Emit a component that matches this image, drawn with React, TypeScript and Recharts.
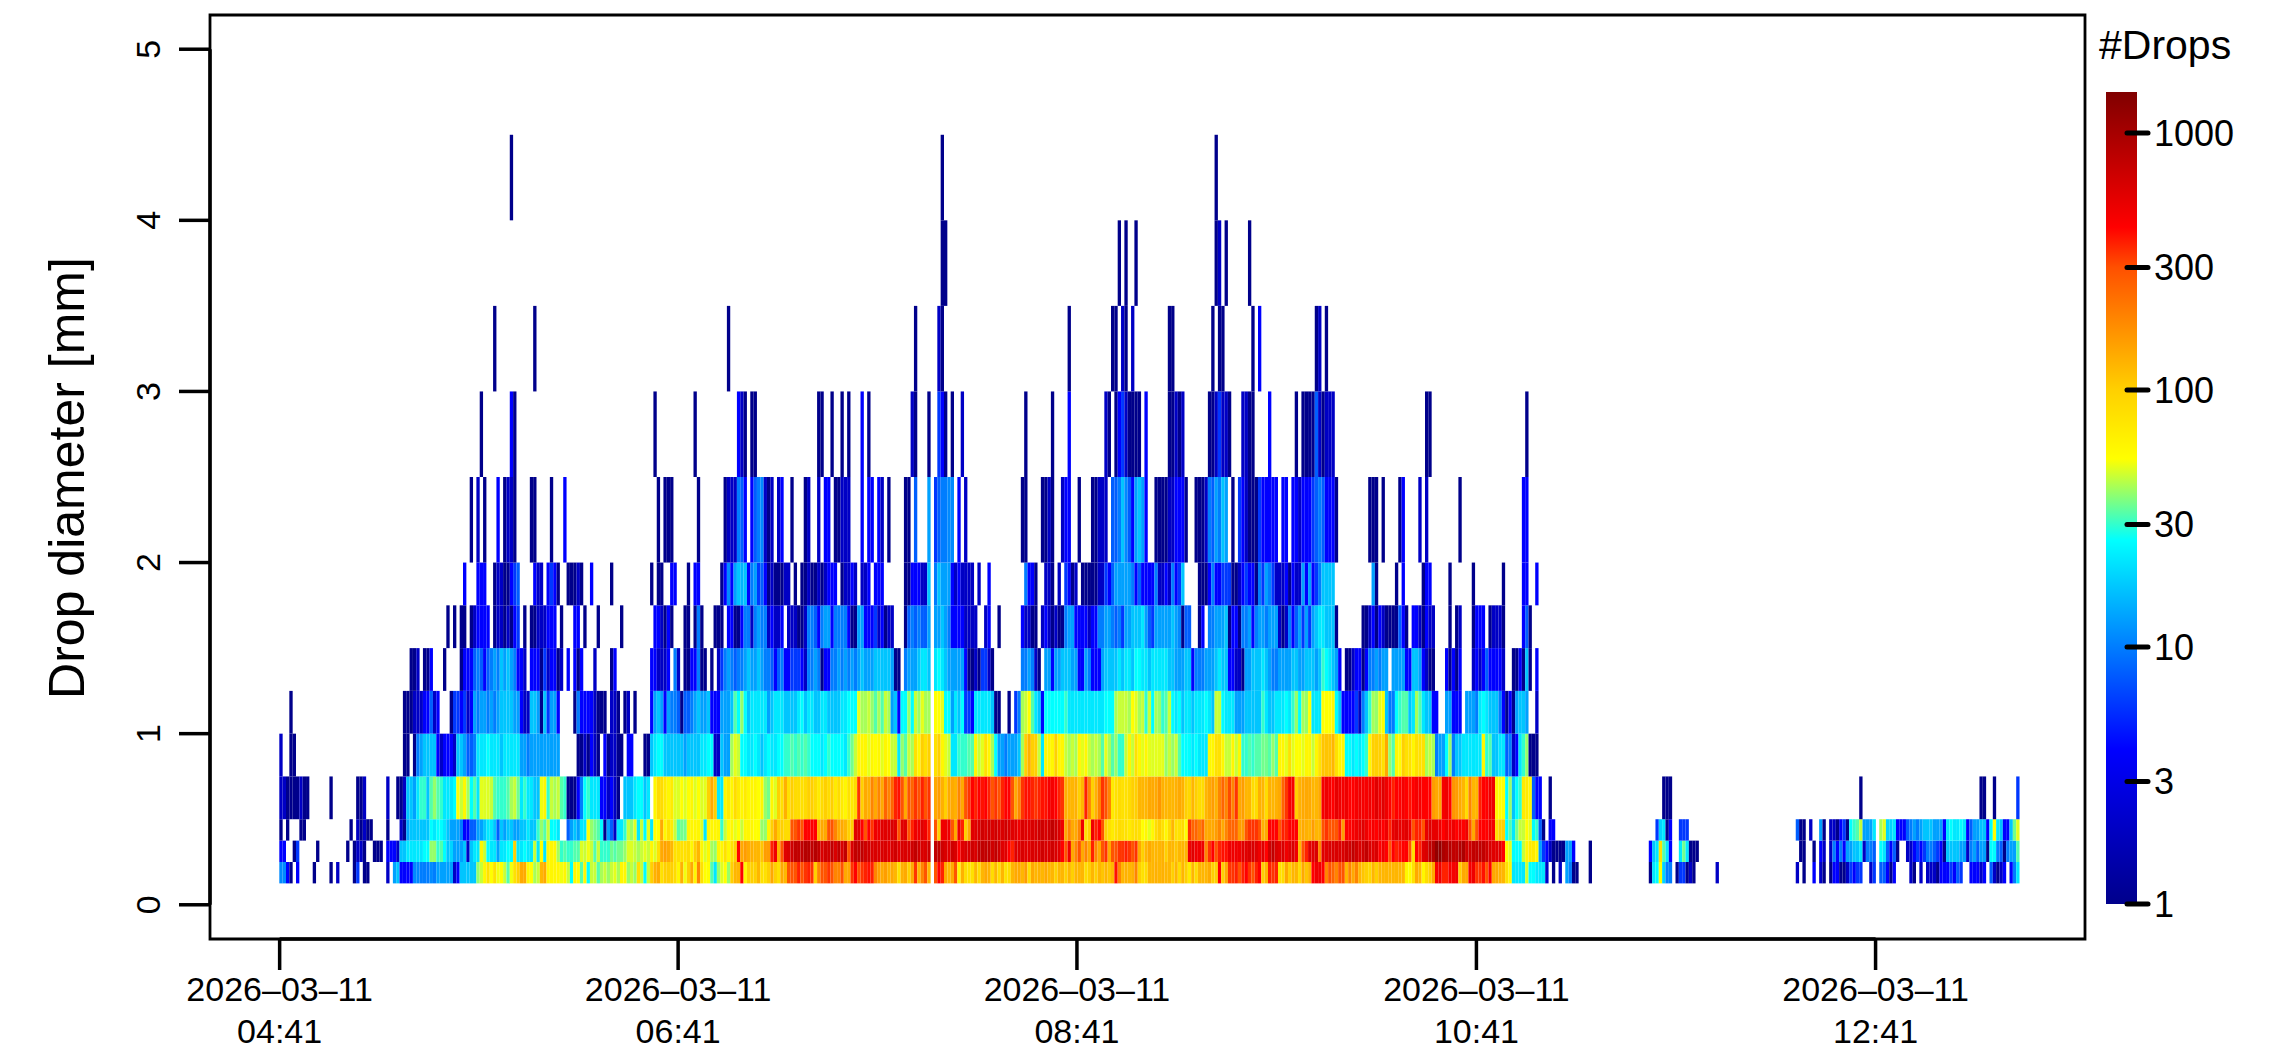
import React from 'react';
import { BarChart, Bar, Cell, XAxis, YAxis, ReferenceLine, ReferenceArea } from 'recharts';

type Seg = [number, number[]];

// lower edge of every diameter class plus the last upper edge [mm]
const classEdges = [0.125, 0.25, 0.375, 0.5, 0.75, 1, 1.25, 1.5, 1.75, 2, 2.5, 3, 3.5, 4, 4.5];
const columnCount = 521;

const dateLabels = ['2026–03–11', '2026–03–11', '2026–03–11', '2026–03–11', '2026–03–11'];
const timeLabels = ['04:41', '06:41', '08:41', '10:41', '12:41'];
// time ticks in column units (some measurements are missing, so a column is not quite a minute)
const timeTicks = [0.1, 119.4, 238.8, 358.4, 477.9];
const diameterTicks = [0, 1, 2, 3, 4, 5];
const dropTicks = [1, 3, 10, 30, 100, 300, 1000];
const dropMax = 1445;

// colour bar stops: drop count, colour
const paletteCounts = [1, 4, 26, 54, 100, 300, 430, 1445];
const paletteColours = ['#00008b', '#0000ff', '#00ffff', '#ffff00', '#ffd000', '#ff5000', '#ff0000', '#800000'];

// counts per class, as [first column, counts from that column on]
const d0125: Seg[] = [
  [0, [11, 11, 4, 1]], [5, [4]], [10, [1]], [15, [1]], [17, [2]], [22, [1, 6]], [25, [1, 1]], [32, [2]],
  [34, [13, 17, 4, 4, 4, 4, 11, 11, 10, 10, 10, 11, 10, 13, 13, 13, 13, 13, 2, 4, 17, 17, 17, 17, 17, 40, 46, 60, 80, 54, 80, 52, 54, 46, 33, 52, 80, 100, 140, 140, 60, 54, 42, 46, 125, 140, 60, 60, 60, 60, 52, 60, 46, 26, 60, 54, 33, 60, 26, 46, 46, 33, 42, 46, 40, 46, 50, 42, 60, 60, 40, 46, 40, 80, 46, 26, 46, 100, 130, 140, 80, 100, 100, 100, 85, 60, 130, 52, 100, 140, 60, 190]],
  [126, [80, 54, 54, 33, 22, 40, 49, 54, 40, 100, 125, 125, 430, 60, 100, 100, 100, 125, 80, 80, 100, 140, 100, 80, 140, 125, 290, 290, 290, 370, 290, 340, 370, 340, 100, 190, 290, 290, 340, 290, 190, 190, 290, 140, 140, 340, 430, 290, 340, 370, 400, 370, 190, 155, 140, 155, 130, 140, 125, 80, 130, 140, 100, 140, 340, 125, 190, 290, 125]],
  [196, [290, 430, 370, 140, 125, 140, 290, 60, 130, 85, 80, 80, 125, 85, 125, 140, 130, 85, 125, 85, 125, 80, 85, 125, 140, 140, 125, 155, 85, 140, 125, 130, 125, 140, 125, 125, 100, 125, 125, 100, 125, 100, 125, 125, 125, 85, 100, 125, 100, 125, 110, 125, 110, 125, 400, 190, 125, 130, 125, 130, 190, 100]],
  [258, [80, 85, 125, 125, 130, 125, 130, 125, 125, 100, 125, 85, 125, 100, 70, 125, 85, 125, 125, 125, 140, 100, 100, 430, 100, 140, 340, 340, 370, 290, 370, 430, 340, 290, 370, 430, 100, 125, 370, 340, 370, 80, 85, 140, 100, 125, 125, 85, 140, 110, 130, 430, 500, 500, 430, 190, 290, 250, 190, 290, 290, 125, 190, 140, 190, 125, 110, 100, 90, 125, 100, 125, 125, 125, 125, 125, 125, 125, 125, 60, 54, 80, 140, 125, 60, 85, 100, 140, 470, 500, 370, 370, 470, 470, 500, 100, 140, 140, 470, 500, 340, 340, 400, 290, 430, 140, 140, 130, 125, 80, 60, 22, 22, 22, 22, 46, 26, 26, 22, 22, 22, 2, 0, 1, 0, 2, 0, 13, 10, 1, 1]],
  [392, [1]], [410, [1, 22, 26, 54, 19, 10, 10]], [418, [1, 6, 6, 1, 2, 1]], [430, [2]], [454, [2]], [456, [1]], [459, [4]], [461, [2, 1]],
  [464, [1, 4, 4, 1, 1, 2, 6, 4, 6, 6]], [476, [2, 6]], [479, [8, 8, 4, 1, 4]], [488, [2, 1]], [491, [2]], [493, [2, 2, 2, 1, 4, 4, 4, 6, 4, 8, 6]], [506, [4, 4, 4, 2, 4]], [512, [8, 2, 1, 2, 4]], [518, [4, 10, 22]],
];
const d0250: Seg[] = [
  [0, [4, 4]], [4, [1, 6]], [11, [1]], [20, [1]], [22, [1, 2, 2, 1]], [28, [1, 1, 1]], [32, [4, 4, 4, 2]],
  [36, [17, 17, 22, 22, 22, 22, 22, 26, 26, 40, 40, 30, 33, 26, 17, 19, 13, 13, 13, 17, 2, 17, 22, 22, 60, 46, 26, 22, 22, 13, 22, 22, 26, 26, 100, 22, 22, 26, 22, 22, 46, 22, 54, 22, 60, 60, 60, 42, 30, 33, 30, 30, 33, 33, 49, 46, 52, 46, 33, 46, 30, 30, 30, 36, 33, 36, 36, 40, 49, 49, 46, 42, 46, 50, 46, 60, 49, 80, 140, 150, 140, 125, 80, 80, 80, 80, 85, 60, 100, 125]],
  [126, [60, 49, 60, 42, 40, 60, 60, 80, 60, 80, 100, 430, 140, 155, 140, 130, 125, 125, 110, 155, 155, 370, 500, 130, 290, 580, 620, 680, 780, 780, 780, 870, 870, 780, 870, 780, 620, 680, 680, 780, 620, 780, 620, 780, 290, 620, 780, 780, 780, 680, 680, 620, 620, 620, 620, 620, 580, 620, 680, 580, 620, 620, 620, 680, 780, 680, 620, 620, 680]],
  [196, [780, 780, 680, 620, 580, 680, 620, 430, 580, 620, 620, 680, 620, 780, 780, 780, 780, 680, 780, 680, 580, 580, 430, 370, 580, 580, 620, 580, 580, 620, 620, 620, 680, 620, 620, 680, 620, 580, 430, 290, 500, 140, 190, 290, 140, 190, 140, 370, 190, 140, 290, 340, 140, 290, 290, 340, 340, 370, 340, 290, 340, 140]],
  [258, [100, 125, 140, 125, 125, 125, 130, 100, 125, 125, 110, 125, 125, 125, 500, 580, 500, 500, 500, 190, 340, 430, 290, 370, 400, 400, 500, 500, 500, 500, 580, 580, 620, 620, 580, 500, 580, 430, 680, 780, 620, 580, 620, 500, 580, 620, 500, 125, 290, 370, 580, 580, 620, 190, 580, 580, 620, 620, 620, 620, 620, 680, 680, 780, 680, 620, 680, 780, 620, 580, 620, 430, 500, 430, 290, 430, 370, 400, 430, 430, 290, 80, 430, 370, 580, 620, 780, 870, 1200, 1200, 950, 870, 870, 780, 780, 870, 950, 680, 680, 780, 780, 780, 780, 680, 620, 580, 580, 580, 430, 54, 50, 26, 26, 26, 46, 60, 70, 70, 60, 13, 6, 4, 2, 1, 1, 1, 1, 13, 13, 4]],
  [392, [1]], [410, [4, 17, 22, 80, 33, 22, 4]], [419, [22, 36, 22, 1, 1, 1]], [455, [1, 1]], [459, [1]], [461, [4, 2]],
  [464, [2, 10, 4, 10, 4, 13, 13, 17, 17, 22, 2, 10, 10, 8]], [479, [26, 22, 8, 4, 8, 1]],
  [487, [2, 2, 4, 6, 4, 6, 10, 10, 8, 6, 4, 1, 17, 17, 17, 17, 13, 13, 2, 10, 13, 8, 13, 13, 1, 26, 26, 10, 8, 1, 10, 13, 13, 33]],
];
const d0375: Seg[] = [
  [0, [1]], [2, [1]], [6, [1, 1]], [21, [1]], [23, [2, 1, 2, 1, 1]], [32, [1]],
  [36, [2, 1, 13, 17, 17, 17, 17, 17, 17, 26, 22, 26, 26, 22, 17, 13, 13, 13, 10, 4, 4, 8, 8, 13, 13, 17, 22, 22, 17, 8, 17, 13, 17, 17, 13, 13, 17, 17, 22, 17, 17, 30, 40, 33, 46, 26, 26, 22]],
  [86, [8, 13, 17, 13, 22, 22, 54, 40, 36, 33, 26, 1, 13, 8, 2, 22, 22, 30, 46, 40, 49, 22, 46, 26, 50, 22, 54, 54, 140, 60, 80, 70, 46, 33, 36, 36, 60, 60, 60, 60]],
  [126, [49, 22, 60, 60, 60, 60, 30, 46, 54, 60, 50, 54, 46, 60, 60, 60, 54, 54, 40, 40, 60, 100, 140, 100, 100, 85, 85, 290, 290, 340, 290, 430, 430, 430, 430, 125, 140, 140, 290, 290, 190, 140, 140, 125, 100, 100, 580, 580, 430, 290, 430, 340, 500, 500, 580, 580, 580, 620, 580, 290, 580, 580, 290, 370, 500, 500, 580, 500, 370]],
  [196, [290, 100, 500, 500, 500, 290, 140, 500, 370, 100, 140, 580, 580, 620, 680, 620, 680, 620, 680, 620, 620, 680, 620, 580, 580, 500, 620, 580, 580, 620, 620, 680, 680, 620, 680, 780, 680, 620, 500, 140, 190, 140, 140, 190, 500, 80, 100, 500, 370, 430, 290, 100, 80, 70, 80, 85, 80, 80, 70, 80, 85, 80]],
  [258, [54, 60, 50, 60, 85, 100, 80, 60, 85, 125, 80, 80, 85, 54, 340, 250, 250, 200, 250, 140, 140, 140, 155, 190, 140, 190, 250, 250, 250, 155, 155, 290, 340, 340, 340, 290, 130, 140, 430, 430, 430, 290, 370, 370, 430, 430, 430, 125, 140, 130, 125, 155, 125, 125, 290, 340, 290, 290, 290, 370, 155, 430, 430, 470, 500, 540, 580, 500, 430, 470, 430, 500, 430, 500, 370, 540, 580, 540, 540, 580, 500, 290, 370, 370, 290, 540, 580, 540, 540, 500, 430, 500, 470, 500, 430, 470, 430, 500, 290, 140, 290, 430, 430, 430, 500, 470, 80, 100, 100, 26, 33, 22, 36, 46, 46, 54, 50, 26, 30, 8, 1]],
  [380, [4, 4]], [412, [6, 19, 22, 1, 4]], [419, [6, 6, 6]], [454, [8, 1, 1]], [458, [2]], [461, [13, 1]],
  [464, [2, 2, 1, 4, 6, 1, 26, 30, 33, 46, 13, 13, 13, 22]],
  [479, [42, 50, 19, 19, 22, 4, 4, 4, 8, 10, 13, 10, 13, 17, 17, 17, 13, 13, 13, 4, 22, 26, 22, 22, 26, 22, 4, 8, 13, 13, 17, 17, 4, 26, 54, 22, 17, 4, 4, 17, 36, 50]],
];
const d0500: Seg[] = [
  [0, [2, 2, 1, 1, 1, 1, 2, 1, 1]], [15, [1]], [23, [1, 1, 2]], [32, [2]],
  [35, [1, 1, 2, 17, 17, 13, 22, 30, 30, 17, 33, 40, 33, 30, 22, 22, 22, 26, 54, 46, 60, 42, 26, 33, 22, 50, 49, 49, 46, 33, 30, 30, 30, 33, 42, 46, 36, 22, 30, 22, 22, 17, 17, 52, 60, 30, 46, 42, 46, 33, 30]],
  [86, [1, 1, 1, 4, 10, 26, 30, 22, 22, 22, 4, 4, 2, 4, 2, 1]], [103, [17, 17, 17, 22, 26, 26, 17, 22]],
  [112, [60, 85, 85, 70, 60, 70, 49, 49, 54, 49, 54, 60, 49, 54]],
  [126, [49, 50, 100, 140, 100, 22, 22, 60, 70, 60, 85, 70, 60, 70, 60, 60, 60, 54, 60, 40, 36, 60, 49, 100, 80, 130, 80, 100, 85, 85, 80, 85, 100, 100, 85, 70, 85, 100, 85, 100, 70, 85, 70, 60, 80, 70, 85, 340, 100, 140, 130, 190, 140, 190, 140, 250, 190, 250, 370, 400, 290, 140, 290, 250, 340, 290, 370, 290, 340]],
  [196, [140, 155, 130, 100, 140, 140, 130, 190, 140, 290, 340, 430, 370, 430, 400, 430, 370, 290, 340, 290, 370, 430, 430, 290, 140, 190, 340, 400, 400, 370, 340, 370, 400, 400, 470, 470, 430, 370, 340, 130, 125, 125, 130, 100, 125, 370, 190, 100, 130, 190, 340, 290, 190, 70, 80, 85, 80, 80, 85, 100, 100, 125]],
  [258, [125, 125, 140, 140, 140, 165, 130, 125, 125, 125, 130, 140, 130, 100, 90, 125, 100, 85, 85, 125, 140, 155, 130, 190, 250, 190, 310, 190, 340, 140, 155, 125, 125, 85, 85, 130, 125, 85, 130, 125, 130, 140, 250, 340, 470, 470, 100, 130, 140, 140, 140, 125, 125, 140, 470, 500, 470, 430, 540, 500, 470, 500, 430, 430, 470, 500, 470, 470, 500, 470, 580, 500, 580, 500, 430, 370, 430, 430, 470, 430, 400, 430, 470, 470, 430, 430, 430, 155, 140, 140, 470, 500, 430, 165, 155, 140, 125, 85, 190, 125, 125, 370, 430, 430, 500, 500, 60, 54, 54, 26, 40, 17, 26, 30, 70, 70, 60, 8, 4, 4]],
  [380, [1]], [414, [1, 1, 1]], [473, [1]], [509, [1, 1]], [513, [1]], [520, [6]],
];
const d0750: Seg[] = [
  [0, [2]], [3, [1, 1]], [37, [1, 1]],
  [40, [1, 10, 13, 17, 17, 17, 17, 4, 2, 4, 4, 4, 2, 17, 17, 13, 8, 8, 10, 22, 22, 22, 26, 22, 22, 22, 17, 22, 22, 22, 22, 22, 13, 13, 10, 13, 13, 13, 13, 13, 13, 13, 13, 13]],
  [89, [1, 1, 2, 1, 4, 2, 1]], [97, [4, 1, 2, 2, 1, 1]], [104, [4, 4]], [109, [1, 1]],
  [111, [17, 22, 26, 26, 17, 17, 17, 17, 17, 17, 13, 17, 17, 17, 17]],
  [126, [22, 22, 26, 26, 2, 2, 17, 13, 13, 42, 50, 46, 26, 26, 22, 22, 26, 22, 17, 22, 26, 22, 22, 26, 26, 30, 30, 33, 30, 33, 30, 33, 30, 26, 26, 26, 22, 26, 30, 26, 26, 26, 26, 22, 30, 36, 46, 60, 60, 60, 50, 60, 54, 60, 50, 60, 54, 46, 46, 22, 40, 33, 46, 42, 80, 60, 100, 80, 100]],
  [196, [80, 100, 60, 50, 46, 22, 22, 30, 30, 30, 33, 33, 60, 46, 50, 80, 60, 42, 26, 13, 13, 10, 13, 13, 13, 17]],
  [222, [42, 100, 130, 100, 100, 46, 22, 60, 60, 60, 100, 60, 60, 46, 42, 46, 42, 60, 50, 60, 46, 42, 46, 42, 33, 50, 42, 33, 40, 30, 30, 46, 60, 46, 80, 60]],
  [258, [50, 60, 50, 49, 50, 50, 50, 40, 46, 40, 46, 33, 26, 26, 26, 22, 26, 22, 22, 22, 60, 60, 80, 80, 60, 46, 46, 60, 46, 60, 30, 30, 33, 30, 33, 33, 36, 36, 33, 40, 33, 60, 60, 50, 80, 50, 54, 54, 50, 60, 60, 46, 60, 80, 110, 110, 110, 125, 80, 60, 60, 26, 26, 22, 26, 22, 26, 30, 60, 100, 100, 100, 80, 140, 40, 33, 60, 54, 100, 80, 80, 60, 80, 80, 80, 42, 46, 42, 10, 13, 13, 26, 40, 10, 17, 17, 22, 22, 22, 22, 22, 22, 60, 30, 33, 17, 17, 22, 22, 8, 10, 2, 4, 22, 30, 40, 1, 1, 1]],
];
const d1000: Seg[] = [
  [3, [1]], [37, [1, 1, 1, 2, 2, 2, 4, 4, 8, 2, 4]],
  [51, [1, 6, 6, 4, 6, 2, 4, 13, 10, 13, 13, 10, 13, 10, 13, 17, 17, 17, 17, 13, 13, 4, 2, 2, 17, 17, 13, 1, 17, 6, 13, 13, 4]],
  [88, [1, 10, 4, 4, 4, 4, 2, 1, 1, 1]], [99, [2, 2, 1]], [103, [1, 2]], [106, [1]],
  [111, [4, 13, 17, 13, 4, 13, 10, 10, 8, 1, 8, 8, 10, 13, 17]],
  [126, [13, 13, 17, 4, 4, 4, 13, 13, 13, 17, 33, 26, 40, 26]],
  [140, [17, 22, 22, 22, 22, 22, 13, 17, 22, 22, 22, 17, 17, 17, 17, 22, 26, 17, 22, 22, 17, 17, 22, 22, 17, 17, 17, 17, 22, 22, 26, 26, 26]],
  [173, [50, 42, 42, 46, 40, 33, 42, 33, 46, 42, 13, 17, 4, 26, 26, 40, 26, 46, 40, 50, 42, 42]],
  [196, [54, 54, 50, 26, 26, 13, 22, 17, 26, 6, 6, 4, 22, 22, 22, 22, 22, 17]],
  [214, [1, 1]], [218, [1]],
  [220, [6, 10, 42, 46, 54, 33, 22, 17, 4, 26, 26, 26, 26, 26, 26, 30, 22, 22, 22, 22, 22, 22, 22, 22, 22, 22, 22, 26, 26, 26, 42, 46, 46, 46, 42, 54, 50, 42]],
  [258, [46, 30, 46, 26, 42, 40, 30, 33, 46, 26, 22, 26, 17, 22, 22, 17, 22, 22, 22, 26, 22, 17, 46, 46, 26, 22, 22, 22, 13, 13, 13, 17, 17, 17, 17, 17, 30, 22, 17, 17, 22, 22, 22, 26, 22, 30, 40, 26, 42, 40, 54, 22, 22, 22, 54, 54, 54, 60, 26, 17, 4, 4, 4, 4, 6, 2, 10, 17, 30, 42, 40, 50, 54, 17, 10, 10, 26, 30, 33, 33, 17, 22, 42, 33, 22, 17, 17, 4, 4]],
  [349, [13, 13, 4, 4, 4]], [355, [13, 13, 13, 10, 22, 26, 22, 17, 17, 17, 10, 4, 1, 4, 1]], [370, [13, 17, 17, 13]], [376, [2]],
];
const d1250: Seg[] = [
  [39, [1, 1, 2]], [43, [1, 1, 4]], [49, [1]],
  [54, [1, 4, 4, 4, 8, 10, 8, 4, 8, 10, 13, 10, 17, 13, 17, 13, 10, 4, 4, 2]],
  [75, [4, 4, 4, 1, 6, 2, 4, 4, 1, 2]], [86, [4]], [88, [4, 1, 4]], [94, [2]], [99, [1, 4]],
  [111, [4, 4, 2, 2, 2, 4]], [118, [10, 2]], [121, [1, 1, 4, 4, 10]], [126, [1, 1]], [129, [1]],
  [131, [2, 6, 10, 13, 10, 8, 10, 10, 13, 17, 13, 13, 17, 13, 10, 10, 8, 4, 8, 10, 4, 4, 6, 6, 6, 4, 2, 10, 10, 13, 10, 1, 4, 4, 10, 10, 13, 10, 13, 10, 13, 10, 13, 17, 13, 13, 13, 17, 17, 17, 17, 17, 13, 1, 1]],
  [187, [10, 13, 13, 13, 17, 22, 22, 17]], [196, [22, 26, 22, 17, 13, 13, 13, 13, 13, 4]], [206, [1, 1, 2, 1, 6, 6, 2, 1]],
  [222, [10, 10, 13, 10, 2, 1]],
  [229, [13, 13, 4, 13, 13, 17, 17, 17, 13, 13, 4, 4, 13, 10, 4, 4, 4, 13, 17, 17, 17, 17, 22, 17, 22, 22, 17, 26, 26]],
  [258, [22, 22, 17, 22, 22, 22, 22, 22, 17, 17, 13, 13, 13, 17, 17, 4, 10, 10, 10, 13, 13, 13, 17, 22, 17, 17, 4, 4, 2, 2, 1, 13, 13, 17, 17, 17, 22, 17, 13, 10, 10, 13, 13, 13, 13, 17, 17, 13, 13, 17, 17, 17, 13, 17, 30, 26, 22, 17, 13, 4]],
  [319, [1, 1, 2, 4, 4, 1, 4, 10, 10, 13, 10, 13, 13]], [333, [13, 13, 13, 13, 4, 4, 17, 17, 13, 4, 2, 1, 1]],
  [349, [4, 1, 4, 1, 4]], [357, [2, 4, 2, 4, 8]], [362, [4, 4, 4, 4, 2]], [369, [1, 1, 4, 1, 17, 1]], [376, [4]],
];
const d1500: Seg[] = [
  [50, [1]], [52, [1]], [54, [1, 1]], [57, [1, 2, 4, 4, 4, 4]], [64, [1, 2, 2, 1, 2, 1, 4, 6]], [73, [1]],
  [75, [1, 1, 2, 2, 2, 4, 4, 4]], [84, [1]], [88, [4, 4]], [91, [1]], [95, [1]], [102, [1]],
  [112, [4, 4, 2, 1, 4, 1]], [121, [1, 1]], [124, [1, 10]], [126, [1]], [130, [1, 1, 1]],
  [134, [4, 4, 1, 1, 4, 10, 10, 2, 10, 13, 10, 10, 2, 4, 2, 2, 4]],
  [152, [2, 2, 2, 1, 1, 2, 10, 10, 8, 4, 10, 13, 13, 4, 10, 10, 10, 10, 4, 1, 1, 13, 13, 4, 4, 4, 6, 2, 4, 1, 2, 2]],
  [187, [1, 8, 10, 8, 10, 8, 8, 13]], [196, [13, 13, 17, 13, 10, 4, 4, 4, 4, 2, 2, 2, 2]], [211, [2, 4]], [215, [1]],
  [222, [4, 2, 2, 1, 1]],
  [228, [2, 4, 2, 1, 2, 1, 1, 10, 13, 13, 4, 4, 4, 4, 2, 4, 4, 10, 10, 13, 13, 10, 8, 10, 6, 13, 13, 17, 17, 17]],
  [258, [22, 13, 8, 6, 13, 13, 13, 13, 13, 17, 13, 11, 1, 8, 8]], [275, [1, 4]],
  [278, [10, 10, 13, 13, 13, 17, 1, 4, 4, 1, 10, 10, 13, 4, 10, 13, 13, 10, 13, 13, 13, 2, 1, 2, 10, 4, 8, 13, 6, 13, 6, 13, 17, 22, 22, 17, 17, 17, 1]],
  [324, [1, 1, 2, 4, 1, 4, 2, 1, 1, 1, 1, 8, 4, 1]], [339, [4, 4, 2, 1, 4, 2, 2]], [350, [1]], [352, [1, 2]],
  [357, [1, 4, 4, 4]], [362, [1, 2, 2, 2, 1]], [372, [4, 8, 1]],
];
const d1750: Seg[] = [
  [55, [4]], [59, [4, 4, 4]], [64, [1, 2, 2, 1, 1, 4, 6, 8]], [76, [4, 2, 2]], [80, [4, 6, 4, 1]], [86, [1, 1, 1, 2, 1]],
  [93, [4]], [99, [1]], [111, [1]], [113, [1, 1]], [117, [4, 4]], [122, [1]], [124, [4, 4]],
  [132, [1, 4, 11, 4, 13, 17, 15, 17, 4, 10, 13, 6, 8, 4, 1, 2, 1, 1, 1, 2, 2]], [154, [1]],
  [156, [1, 1, 2, 1, 1, 2, 1, 2, 4, 4, 4]], [168, [1, 2, 2, 4, 2]], [174, [2, 2, 4]], [178, [4, 4, 4]],
  [187, [1, 1, 4, 4, 4, 2, 2, 17]], [196, [10, 17, 13, 13, 13, 4, 2, 4, 2, 2, 2, 2]], [209, [2]], [212, [4]],
  [223, [10, 4, 4, 1]], [229, [2, 2, 1]], [233, [2]], [235, [6, 4, 1, 2]],
  [240, [1, 1, 1, 1, 1, 2, 2, 6, 4, 8, 13, 13, 13, 13, 13, 10, 4, 8, 4, 4, 4, 4, 10, 2, 2, 4, 2, 10, 4, 6, 17]],
  [275, [1, 1, 1, 4, 10, 4, 4, 6, 6, 6, 1, 1, 2, 4, 6, 4, 4, 1, 10, 6, 13, 10, 6, 2, 2, 2, 4, 1, 4, 2, 2, 13, 4, 13, 4, 6, 10, 17, 17, 17, 17]],
  [327, [13, 1]], [334, [1]], [336, [4]], [342, [1, 4, 4]], [350, [1]], [357, [1]], [366, [1]], [372, [4, 4]], [376, [4]],
];
const d2000: Seg[] = [
  [57, [1]], [59, [2]], [61, [1]], [65, [4]], [67, [1, 2, 2, 1]], [75, [1, 1]], [81, [1]], [85, [4]], [113, [1]], [115, [1, 1, 1]], [125, [1]],
  [133, [1, 2, 2, 2, 10, 8, 4]], [141, [4, 8, 10, 11, 2, 1, 2]], [149, [2, 4]], [153, [1]], [157, [1, 2]], [161, [2]], [163, [4, 4]],
  [166, [1, 1, 2, 2, 2]], [174, [4]], [176, [4, 4]], [179, [4, 2]], [182, [1]], [187, [1, 1]], [190, [8]], [194, [13]],
  [196, [6, 8, 10, 10, 11, 11]], [203, [4]], [205, [2]], [222, [1, 1]], [228, [1, 1, 2, 1]], [234, [2, 4, 4]], [239, [1]],
  [243, [1, 1, 2, 2, 2]], [249, [8, 8, 10, 17, 11, 8, 4, 13, 17]], [258, [13, 4]], [262, [1, 1, 1, 1, 2, 2, 4, 4, 4, 1]],
  [274, [1, 1, 1, 2, 10, 8, 13, 10, 17, 13]], [285, [1]], [287, [6, 4, 2, 1, 1, 1, 6, 4, 4, 4, 4, 4]], [300, [4, 4]],
  [303, [4, 4, 2, 4, 4, 4, 6, 8, 10, 8, 4, 4, 4, 1]], [326, [1, 1, 1]], [330, [1]], [335, [1, 4]], [341, [2]], [343, [2]], [353, [1]], [372, [4, 4]],
];
const d2500: Seg[] = [
  [60, [1]], [69, [4, 1]], [112, [1]], [124, [1]], [137, [4, 2, 1]], [141, [1, 1]], [161, [1, 1]], [165, [1]], [168, [1]], [170, [1]],
  [174, [4]], [176, [1]], [189, [2, 1]], [194, [1]], [197, [6, 4, 1]], [201, [1]], [204, [2]], [223, [1]], [231, [1]], [236, [4]], [247, [2, 1]],
  [250, [1, 4, 6, 2, 1, 1, 1, 1]], [259, [4]], [266, [1, 1, 2, 1, 2]], [278, [1, 1, 2, 6, 2, 2, 1]], [288, [2, 2, 1, 1]], [296, [4]], [304, [1]],
  [306, [1, 1, 1, 1, 8, 2, 1, 2, 2, 2]], [343, [1, 1]], [373, [1]],
];
const d3000: Seg[] = [
  [64, [1]], [76, [1]], [134, [1]], [190, [1]], [197, [2, 1]], [236, [1]], [249, [1, 1]], [252, [2, 1]], [255, [2]],
  [266, [1, 1]], [279, [1]], [281, [1, 1]], [291, [1]], [293, [4]], [310, [1, 2]], [313, [1]],
];
const d3500: Seg[] = [[198, [1, 1]], [251, [1]], [253, [1]], [256, [1]], [280, [1, 2]], [283, [1]], [290, [1]]];
const d4000: Seg[] = [[69, [1]], [198, [1]], [280, [1]]];

const classRows = [d0125, d0250, d0375, d0500, d0750, d1000, d1250, d1500, d1750, d2000, d2500, d3000, d3500, d4000];

const expandRow = (row: Seg[]) => {
  const out: number[] = new Array(columnCount).fill(0);
  row.forEach(([first, counts]) => counts.forEach((c, i) => { out[first + i] = c; }));
  return out;
};
const countGrid = classRows.map(expandRow);

// each column stacks an empty base and one segment per diameter class
const chartData = Array.from({ length: columnCount }, (_, m) => {
  const d: Record<string, number> = { column: m + 0.5, base: classEdges[0] };
  classRows.forEach((_r, r) => { d[`c${r}`] = classEdges[r + 1] - classEdges[r]; });
  return d;
});

const hex = (s: string) => [1, 3, 5].map((i) => parseInt(s.slice(i, i + 2), 16));
const colourOf = (count: number) => {
  const v = Math.log10(count);
  let i = 0;
  while (i < paletteCounts.length - 2 && v > Math.log10(paletteCounts[i + 1])) i++;
  const lo = Math.log10(paletteCounts[i]);
  const hi = Math.log10(paletteCounts[i + 1]);
  const f = Math.min(1, Math.max(0, (v - lo) / (hi - lo)));
  const a = hex(paletteColours[i]);
  const b = hex(paletteColours[i + 1]);
  return `rgb(${a.map((x, k) => Math.round(x + (b[k] - x) * f)).join(',')})`;
};

const FONT = '"Liberation Sans", Arial, sans-serif';

const TimeTick = ({ x, y, index }: any) => (
  <g fontFamily={FONT} fontSize={34} fill="#000" textAnchor="middle">
    <text x={x} y={y + 31}>{dateLabels[index]}</text>
    <text x={x} y={y + 73}>{timeLabels[index]}</text>
  </g>
);

const DiameterTick = ({ x, y, payload }: any) => (
  <text transform={`translate(${x - 19},${y}) rotate(-90)`} fontFamily={FONT} fontSize={34} fill="#000" textAnchor="middle">
    {payload.value}
  </text>
);

const DropTick = ({ x, y, index }: any) => (
  <g>
    <line x1={x - 10} x2={x + 11} y1={y} y2={y} stroke="#000" strokeWidth={5} strokeLinecap="round" />
    <text x={x + 17} y={y + 13} fontFamily={FONT} fontSize={36} fill="#000">{dropTicks[index]}</text>
  </g>
);

const YTitle = () => (
  <text transform="translate(84,478) rotate(-90)" fontFamily={FONT} fontSize={50} fill="#000" textAnchor="middle">
    Drop diameter [mm]
  </text>
);

export default function App() {
  const logMax = Math.log10(dropMax);
  return (
    <div style={{ position: 'absolute', left: 0, top: 0, width: 2279, height: 1050, background: '#fff', overflow: 'hidden' }}>
      <BarChart
        width={2279}
        height={1050}
        data={chartData}
        margin={{ top: 15, right: 194, bottom: 0, left: 0 }}
        barSize={3.34}
        barGap={0}
        style={{ position: 'absolute', left: 0, top: 0 }}
      >
        <XAxis
          dataKey="column"
          type="number"
          domain={[-20.75, 540.6]}
          ticks={timeTicks}
          height={111}
          tick={<TimeTick />}
          tickSize={31}
          tickMargin={0}
          tickLine={{ stroke: '#000', strokeWidth: 3.5 }}
          axisLine={false}
          interval={0}
          allowDataOverflow
        />
        <YAxis
          type="number"
          domain={[-0.2, 5.2]}
          ticks={diameterTicks}
          width={210}
          tick={<DiameterTick />}
          tickSize={31}
          tickMargin={0}
          tickLine={{ stroke: '#000', strokeWidth: 3.5 }}
          axisLine={false}
          interval={0}
          allowDataOverflow
          label={{ content: <YTitle /> }}
        />
        <Bar dataKey="base" stackId="d" fill="none" isAnimationActive={false} />
        {classRows.map((_row, r) => (
          <Bar key={r} dataKey={`c${r}`} stackId="d" isAnimationActive={false}>
            {countGrid[r].map((count, m) => (
              <Cell key={m} fill={count > 0 ? colourOf(count) : 'none'} />
            ))}
          </Bar>
        ))}
        <ReferenceArea x1={-20.75} x2={540.6} y1={-0.2} y2={5.2} fill="none" stroke="#000" strokeWidth={2.8} ifOverflow="visible" />
        <ReferenceLine segment={[{ x: timeTicks[0], y: -0.2 }, { x: timeTicks[4], y: -0.2 }]} stroke="#000" strokeWidth={3.5} ifOverflow="visible" />
        <ReferenceLine segment={[{ x: -20.75, y: 0 }, { x: -20.75, y: 5 }]} stroke="#000" strokeWidth={3.5} ifOverflow="visible" />
      </BarChart>

      <div style={{ position: 'absolute', left: 2099, top: 21, fontFamily: FONT, fontSize: 41, lineHeight: '48px', color: '#000' }}>#Drops</div>

      <BarChart
        width={189}
        height={1050}
        data={[{ name: 'drops', span: logMax }]}
        margin={{ top: 92, right: 0, bottom: 146, left: 16 }}
        barCategoryGap={0}
        style={{ position: 'absolute', left: 2090, top: 0 }}
      >
        <defs>
          <linearGradient id="dropRamp" x1="0" y1="1" x2="0" y2="0">
            {paletteCounts.map((c, i) => (
              <stop key={c} offset={Math.log10(c) / logMax} stopColor={paletteColours[i]} />
            ))}
          </linearGradient>
        </defs>
        <XAxis type="category" dataKey="name" hide />
        <YAxis
          type="number"
          orientation="right"
          domain={[0, logMax]}
          ticks={dropTicks.map((t) => Math.log10(t))}
          width={142}
          tick={<DropTick />}
          tickLine={false}
          tickSize={0}
          tickMargin={0}
          axisLine={false}
          interval={0}
          allowDataOverflow
        />
        <Bar dataKey="span" fill="url(#dropRamp)" isAnimationActive={false} />
      </BarChart>
    </div>
  );
}
